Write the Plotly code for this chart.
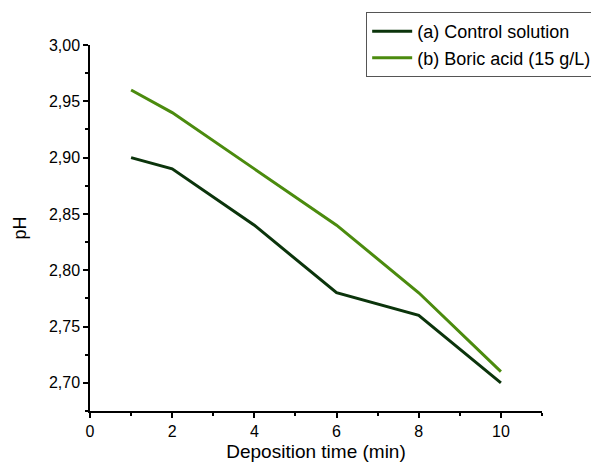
import plotly.graph_objects as go

time_min = [1, 2, 4, 6, 8, 10]
ph_control = [2.90, 2.89, 2.84, 2.78, 2.76, 2.70]
ph_boric = [2.96, 2.94, 2.89, 2.84, 2.78, 2.71]
series_names = ["(a) Control solution", "(b) Boric acid (15 g/L)"]
x_ticks = [0, 2, 4, 6, 8, 10]
y_ticks = [2.70, 2.75, 2.80, 2.85, 2.90, 2.95, 3.00]

FONT = "Liberation Sans, Arial"

fig = go.Figure()
fig.add_trace(go.Scatter(x=time_min, y=ph_control, mode="lines", name=series_names[0],
                         line=dict(color="#0b340b", width=3)))
fig.add_trace(go.Scatter(x=time_min, y=ph_boric, mode="lines", name=series_names[1],
                         line=dict(color="#4b8b0e", width=3)))

axis_common = dict(showline=True, linecolor="black", linewidth=1.5, showgrid=False, zeroline=False,
                   ticks="outside", ticklen=5, tickwidth=1.5, tickcolor="black",
                   tickfont=dict(family=FONT, size=16, color="black"),
                   minor=dict(ticks="outside", ticklen=3, tickwidth=1.5, tickcolor="black"))

fig.update_xaxes(range=[0, 11], tickvals=x_ticks, minor_dtick=1,
                 title=dict(text="Deposition time (min)", font=dict(family=FONT, size=19, color="black"), standoff=6),
                 **axis_common)
fig.update_yaxes(range=[2.675, 3.0], tickvals=y_ticks, tickformat=".2f", minor_dtick=0.025,
                 title=dict(text="pH", font=dict(family=FONT, size=18, color="black"), standoff=18),
                 **axis_common)

fig.update_layout(
    width=599, height=467,
    separators=",.",
    plot_bgcolor="white", paper_bgcolor="white",
    margin=dict(l=82, r=65, t=37, b=64, autoexpand=False),
    font=dict(family=FONT, size=16, color="black"),
    legend=dict(x=0.611, y=1.09, xanchor="left", yanchor="top",
                bgcolor="white", bordercolor="#555555", borderwidth=1,
                font=dict(family=FONT, size=18, color="black"),
                tracegroupgap=0, itemwidth=40),
)

fig.write_html("out.html")
